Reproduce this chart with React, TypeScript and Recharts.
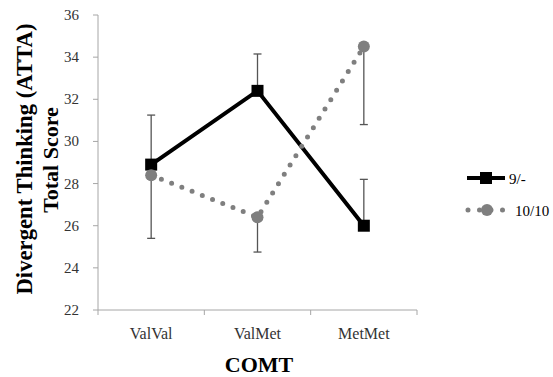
import { LineChart, Line, XAxis, YAxis, ErrorBar, Label } from 'recharts';

// COMT genotype groups
const categories = ['ValVal', 'ValMet', 'MetMet'];
// mean ATTA total score per group
const score9 = [28.9, 32.4, 26.0];
const score10 = [28.4, 26.4, 34.5];
// one-sided error bars (9/- up, 10/10 down)
const err9Up = [2.35, 1.75, 2.2];
const err10Down = [3.0, 1.65, 3.7];
const yTicks = [22, 24, 26, 28, 30, 32, 34, 36];
const seriesNames = ['9/-', '10/10'];

const data = categories.map((name, i) => ({
  name,
  x: i + 0.5,
  s9: score9[i],
  s10: score10[i],
  e9: [0, err9Up[i]],
  e10: [err10Down[i], 0],
}));
const xTicks = [0, ...categories.flatMap((_c, i) => [i + 0.5, i + 1])];

const FONT = '"Liberation Serif", "Times New Roman", serif';
const AXIS = '#a6a6a6';
const GRAY = '#7f7f7f';
const serif = { fontFamily: FONT };

const XTick = (props: any) => {
  const { x, y, payload } = props;
  const v = payload.value;
  if (Number.isInteger(v)) {
    return <line x1={x} x2={x} y1={y} y2={y + 5} stroke={AXIS} strokeWidth={1} />;
  }
  return (
    <text x={x} y={y + 23} textAnchor="middle" dominantBaseline="central" style={serif} fontSize={16} fill="#333">
      {categories[Math.floor(v)]}
    </text>
  );
};

const YTick = (props: any) => {
  const { x, y, payload } = props;
  return (
    <text x={x} y={y} textAnchor="end" dominantBaseline="central" style={serif} fontSize={15} fill="#333">
      {payload.value}
    </text>
  );
};

const SquareDot = (props: any) => {
  const { cx, cy, index } = props;
  return <rect key={`sq-${index}`} x={cx - 6} y={cy - 6} width={12} height={12} fill="#000" />;
};

const CircleDot = (props: any) => {
  const { cx, cy, index } = props;
  return <circle key={`ci-${index}`} cx={cx} cy={cy} r={6} fill={GRAY} />;
};

export default function App() {
  return (
    <div style={{ position: 'absolute', left: 0, top: 0, width: 553, height: 377, background: '#fff', fontFamily: FONT }}>
      <LineChart width={553} height={377} data={data} margin={{ top: 15, right: 136, bottom: 0, left: 0 }}>
        <XAxis
          dataKey="x"
          type="number"
          domain={[0, 3]}
          ticks={xTicks}
          interval={0}
          tick={<XTick />}
          tickLine={false}
          tickSize={0}
          tickMargin={0}
          axisLine={{ stroke: AXIS }}
          height={67}
        >
          <Label
            content={() => (
              <text x={259} y={364} textAnchor="middle" dominantBaseline="central" style={serif} fontSize={22} fontWeight="bold" fill="#000">
                COMT
              </text>
            )}
          />
        </XAxis>
        <YAxis
          type="number"
          domain={[22, 36]}
          ticks={yTicks}
          interval={0}
          allowDataOverflow
          width={98}
          tickSize={5}
          tickMargin={14}
          tickLine={{ stroke: AXIS }}
          axisLine={{ stroke: AXIS }}
          tick={<YTick />}
        >
          <Label
            content={() => (
              <g>
                <text x={24} y={159} textAnchor="middle" dominantBaseline="central" transform="rotate(-90 24 159)" style={serif} fontSize={22.7} fontWeight="bold" fill="#000">
                  Divergent Thinking (ATTA)
                </text>
                <text x={50} y={160} textAnchor="middle" dominantBaseline="central" transform="rotate(-90 50 160)" style={serif} fontSize={22} fontWeight="bold" fill="#000">
                  Total Score
                </text>
              </g>
            )}
          />
        </YAxis>
        <Line
          dataKey="s9"
          name={seriesNames[0]}
          type="linear"
          stroke="#000"
          strokeWidth={4}
          dot={SquareDot}
          activeDot={false}
          isAnimationActive={false}
        >
          <ErrorBar dataKey="e9" direction="y" width={4} stroke="#555" strokeWidth={1.3} />
        </Line>
        <Line
          dataKey="s10"
          name={seriesNames[1]}
          type="linear"
          stroke={GRAY}
          strokeWidth={5}
          strokeDasharray="0 11"
          strokeLinecap="round"
          dot={CircleDot}
          activeDot={false}
          isAnimationActive={false}
        >
          <ErrorBar dataKey="e10" direction="y" width={4} stroke="#555" strokeWidth={1.3} />
        </Line>
      </LineChart>
      <svg width={553} height={377} style={{ position: 'absolute', left: 0, top: 0, pointerEvents: 'none' }}>
        <line x1={467} x2={505} y1={178} y2={178} stroke="#000" strokeWidth={4} />
        <rect x={480} y={172} width={12} height={12} fill="#000" />
        <text x={509} y={179} dominantBaseline="central" style={serif} fontSize={15} fill="#000">{seriesNames[0]}</text>
        <line x1={468} x2={503} y1={210} y2={210} stroke={GRAY} strokeWidth={5} strokeDasharray="0 11.5" strokeLinecap="round" />
        <circle cx={487} cy={210} r={6} fill={GRAY} />
        <text x={515} y={211} dominantBaseline="central" style={serif} fontSize={15} fill="#000">{seriesNames[1]}</text>
      </svg>
    </div>
  );
}
